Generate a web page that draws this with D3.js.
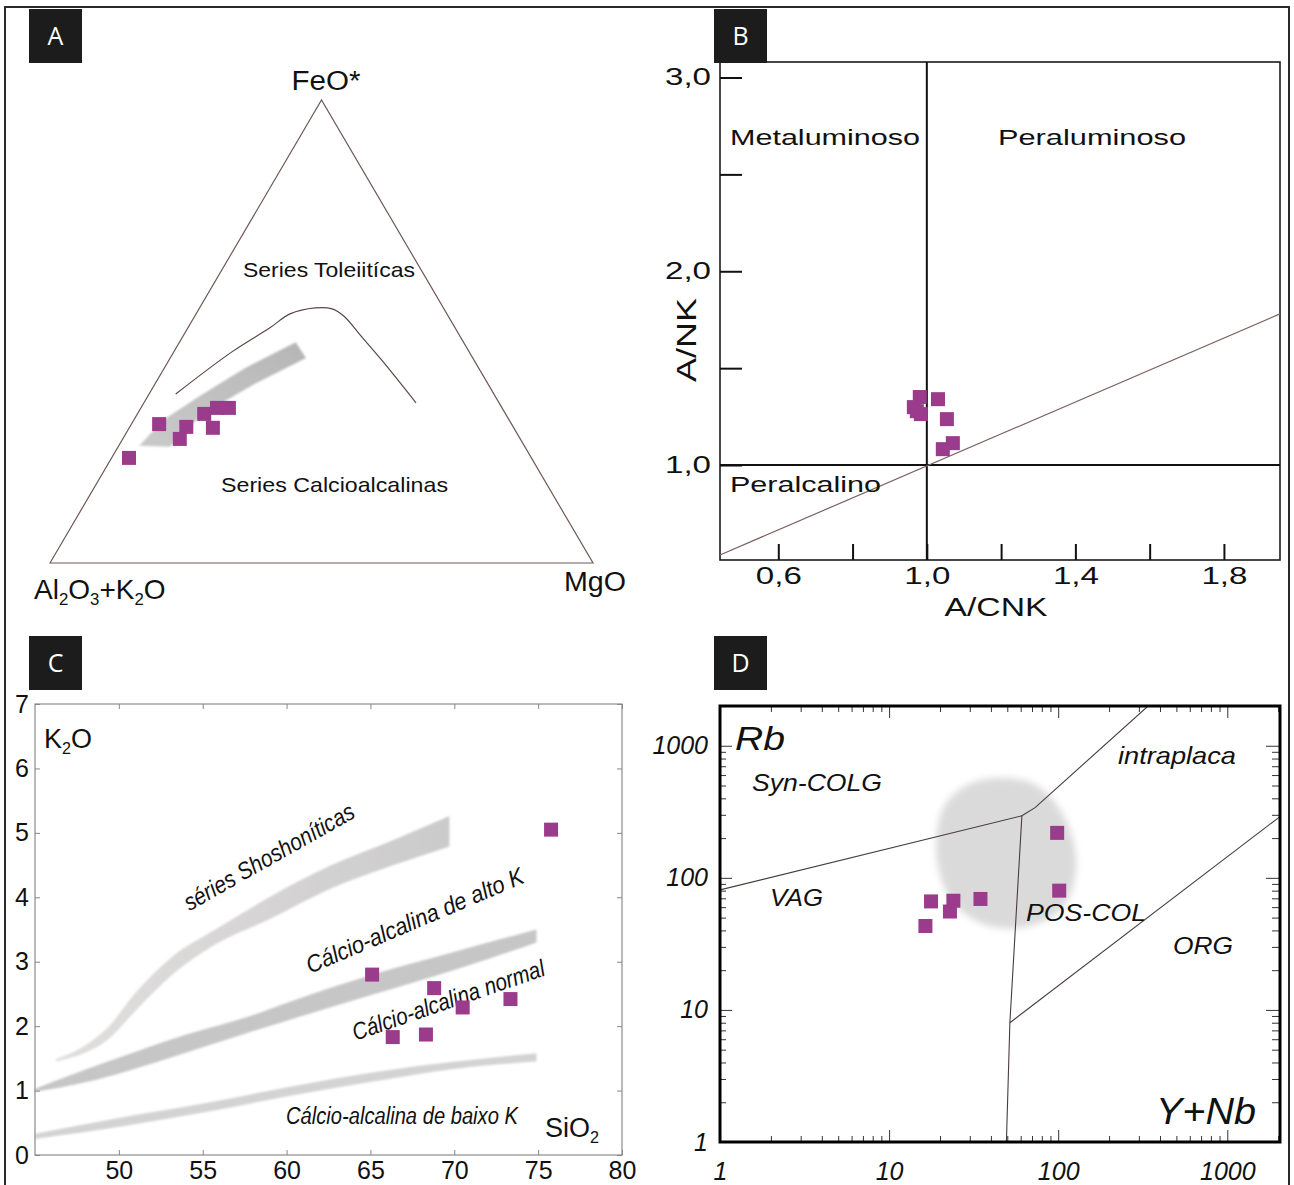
<!DOCTYPE html>
<html>
<head>
<meta charset="utf-8">
<script src="https://cdn.jsdelivr.net/npm/d3@7/dist/d3.min.js"></script>
<style>
  html, body { margin: 0; padding: 0; background: #fff; }
  svg { display: block; }
  text { font-family: "Liberation Sans", Arial, Helvetica, sans-serif; fill: #111; }
</style>
</head>
<body>
<svg id="fig" width="1294" height="1185"></svg>
<script>
// ================= DATA =================
// Panel A — AFM ternary, each entry [Al2O3+K2O, FeO*, MgO] in %
const afmSamples = [
  [74.1, 22.7, 3.2], [64.9, 30.0, 5.1], [62.7, 26.8, 10.5], [60.2, 29.4, 10.4],
  [55.5, 32.2, 12.3], [55.4, 29.2, 15.4], [52.5, 33.5, 14.0], [50.3, 33.5, 16.2]
];
// tholeiitic / calc-alkaline dividing curve
const afmDivide = [
  [58.6, 36.5, 4.9], [43.7, 45.6, 10.7], [34.1, 50.8, 15.1], [28.9, 53.8, 17.3],
  [23.6, 55.1, 21.3], [20.6, 54.9, 24.5], [19.2, 53.3, 27.5], [18.2, 49.0, 32.8],
  [17.0, 43.8, 39.2], [15.3, 34.6, 50.1]
];
// calc-alkaline differentiation trend arrow (outline)
const afmTrendArrow = [
  [30.9, 47.7, 21.4], [43.0, 42.1, 14.9], [54.3, 36.1, 9.6], [63.7, 30.9, 5.4],
  [70.9, 25.3, 3.8], [65.3, 25.1, 9.6], [61.5, 28.3, 10.2], [54.0, 33.1, 12.9],
  [42.9, 38.7, 18.4], [30.7, 44.3, 25.0]
];

// Panel B — [A/CNK, A/NK]
const acnkSamples = [
  [0.981, 1.351], [0.965, 1.299], [0.984, 1.263], [0.973, 1.278],
  [1.030, 1.340], [1.054, 1.237], [1.070, 1.113], [1.043, 1.082]
];
const acnkDiagonal = [[0.443, 0.536], [1.951, 1.78]];
const acnkTicksMajor = [0.6, 1.0, 1.4, 1.8];
const acnkTicksMinor = [0.8, 1.2, 1.6];
const ankTicksMajor = [1.0, 2.0, 3.0];
const ankTicksMinor = [1.5, 2.5];

// Panel C — [SiO2, K2O]
const k2oSamples = [
  [65.1, 2.80], [66.33, 1.83], [68.8, 2.59], [68.31, 1.87],
  [70.5, 2.29], [73.35, 2.42], [75.77, 5.05]
];
// series boundary bands: [SiO2, lower K2O, upper K2O]
const shoshoniticBand = [
  [46.25, 1.45, 1.49], [47.86, 1.57, 1.68], [49.34, 1.79, 1.98], [51.07, 2.26, 2.54],
  [53.29, 2.82, 3.10], [55.76, 3.27, 3.50], [58.97, 3.66, 4.00], [62.68, 4.14, 4.50],
  [66.38, 4.50, 4.89], [69.71, 4.79, 5.26]
];
const highKBand = [
  [45.0, 0.98, 1.03], [47.86, 1.12, 1.31], [50.33, 1.29, 1.54], [54.03, 1.59, 1.87],
  [57.74, 1.90, 2.15], [60.21, 2.10, 2.38], [65.14, 2.49, 2.80], [70.08, 2.88, 3.16],
  [74.9, 3.30, 3.50]
];
const lowKBand = [
  [45.0, 0.25, 0.33], [50.33, 0.45, 0.59], [55.27, 0.67, 0.81], [60.21, 0.92, 1.06],
  [65.14, 1.14, 1.28], [70.08, 1.34, 1.45], [74.9, 1.45, 1.58]
];
const sio2Ticks = [50, 55, 60, 65, 70, 75, 80];
const k2oTicks = [0, 1, 2, 3, 4, 5, 6, 7];

// Panel D — [Y+Nb, Rb] (ppm)
const rbSamples = [
  [17.7, 66.3], [16.4, 43.2], [24.0, 67.1], [22.9, 55.6],
  [34.7, 69.2], [98.6, 219], [101.4, 80.0]
];
const rbBoundaries = [
  [[1, 81], [61, 295]],                     // VAG / syn-COLG
  [[61, 295], [73, 340], [340, 2000]],      // syn-COLG / intraplaca
  [[61, 295], [51.8, 8.0], [49.4, 1]],      // VAG / intraplaca-ORG
  [[51.8, 8.0], [2050, 291]]                // intraplaca / ORG
];
// post-collisional granite field (outline)
const postColField = [
  [45.4, 572], [73.1, 507], [102.8, 327], [126, 163], [121, 81.1], [96, 52.5],
  [59.6, 41.8], [37.0, 44.1], [24.6, 62.4], [20.0, 105], [19.0, 194], [21.4, 357], [29.3, 507]
];
const logMajorTicks = [1, 10, 100, 1000];
const logMinorTicks = [1, 10, 100, 1000].flatMap(k => d3.range(2, 10).map(m => m * k)).filter(v => v <= 2000);

// ================= DRAWING =================
const svg = d3.select('#fig');
const MARK = '#9b3b8c';
const SQ = 14;

const defs = svg.append('defs');
defs.append('filter').attr('id', 'soft').attr('x', '-20%').attr('y', '-20%').attr('width', '140%').attr('height', '140%')
  .append('feGaussianBlur').attr('stdDeviation', 0.9);
defs.append('filter').attr('id', 'blob').attr('x', '-30%').attr('y', '-30%').attr('width', '160%').attr('height', '160%')
  .append('feGaussianBlur').attr('stdDeviation', 3.5);
const arrowGrad = defs.append('linearGradient').attr('id', 'arrowGrad')
  .attr('x1', '100%').attr('y1', '0%').attr('x2', '0%').attr('y2', '100%');
arrowGrad.append('stop').attr('offset', '0%').attr('stop-color', '#b6b6b6');
arrowGrad.append('stop').attr('offset', '100%').attr('stop-color', '#cacaca');
const shoGrad = defs.append('linearGradient').attr('id', 'shoGrad')
  .attr('x1', '0%').attr('y1', '0%').attr('x2', '100%').attr('y2', '0%');
shoGrad.append('stop').attr('offset', '0%').attr('stop-color', '#e2dede');
shoGrad.append('stop').attr('offset', '100%').attr('stop-color', '#cbcbcb');

function squares(g, pts) {
  g.selectAll(null).data(pts).join('rect')
    .attr('x', d => d[0] - SQ / 2).attr('y', d => d[1] - SQ / 2)
    .attr('width', SQ).attr('height', SQ).attr('fill', MARK);
}

// text with subscript parts: parts = [[string, isSub], ...]
function richText(g, x, y, parts, size, anchor) {
  const t = g.append('text').attr('x', x).attr('y', y).attr('font-size', size)
    .attr('text-anchor', anchor || 'start');
  let shifted = false;
  parts.forEach(([s, sub]) => {
    const ts = t.append('tspan').text(s);
    if (sub) { ts.attr('font-size', size * 0.6).attr('dy', shifted ? 0 : size * 0.22); shifted = true; }
    else if (shifted) { ts.attr('dy', -size * 0.22); shifted = false; }
  });
  return t;
}

function label(g, txt, x, y, size, opts = {}) {
  const t = g.append('text').attr('x', x).attr('y', y).attr('font-size', size)
    .attr('text-anchor', opts.anchor || 'start').text(txt);
  if (opts.len) t.attr('textLength', opts.len).attr('lengthAdjust', 'spacingAndGlyphs');
  if (opts.italic) t.attr('font-style', 'italic');
  if (opts.family) t.style('font-family', opts.family);
  if (opts.rotate !== undefined) t.attr('transform', `rotate(${opts.rotate},${x},${y})`);
  return t;
}

// condensed label: glyphs keep their height, width squeezed to `len` by a horizontal scale
function narrowLabel(g, txt, x, y, size, len, angle, anchor) {
  const t = g.append('text').attr('x', 0).attr('y', 0).attr('font-size', size)
    .attr('font-style', 'italic').attr('text-anchor', anchor || 'middle').text(txt);
  const natural = t.node().getComputedTextLength();
  const sx = len / natural;
  t.attr('transform', `translate(${x},${y}) rotate(${angle || 0}) scale(${sx},1)`);
  return t;
}

// ---------- outer frame ----------
svg.append('path').attr('d', 'M5,1185 V7 H1289 V1185')
  .attr('fill', 'none').attr('stroke', '#2a2a2a').attr('stroke-width', 2);

// ---------- Panel A ----------
{
  const g = svg.append('g');
  const x = d3.scaleLinear().domain([0, 100]).range([50, 593]);
  const y = d3.scaleLinear().domain([0, 100]).range([563, 100]);
  const tern = ([a, f, m]) => { const s = a + f + m; return [x(100 * (m + f / 2) / s), y(100 * f / s)]; };

  g.append('path')
    .attr('d', d3.line()([[100, 0, 0], [0, 100, 0], [0, 0, 100]].map(tern)) + 'Z')
    .attr('fill', 'none').attr('stroke', '#6e5a56').attr('stroke-width', 1.2);

  g.append('path')
    .attr('d', d3.line().curve(d3.curveCatmullRom)(afmDivide.map(tern)))
    .attr('fill', 'none').attr('stroke', '#5a4844').attr('stroke-width', 1.2);

  g.append('path')
    .attr('d', d3.line().curve(d3.curveLinearClosed)(afmTrendArrow.map(tern)))
    .attr('fill', 'url(#arrowGrad)').attr('filter', 'url(#soft)');

  squares(g, afmSamples.map(tern));

  label(g, 'FeO*', 326, 90, 27, { anchor: 'middle', len: 69 });
  label(g, 'Series Toleiitícas', 243, 277, 21, { len: 172 });
  label(g, 'Series Calcioalcalinas', 221, 492, 21, { len: 227 });
  richText(g, 34, 599, [['Al', 0], ['2', 1], ['O', 0], ['3', 1], ['+K', 0], ['2', 1], ['O', 0]], 28);
  label(g, 'MgO', 564, 591, 27, { len: 62 });
}

// ---------- Panel B ----------
{
  const g = svg.append('g');
  const x = d3.scaleLinear().domain([0.443, 1.951]).range([720, 1280]);
  const y = d3.scaleLinear().domain([0.51, 3.08]).range([560, 62]);
  const fmt = d => d.toFixed(1).replace('.', ',');

  g.append('rect').attr('x', 720).attr('y', 62).attr('width', 560).attr('height', 498)
    .attr('fill', 'none').attr('stroke', '#1a1a1a').attr('stroke-width', 1.6);

  const styleAxis = (sel, len) => {
    sel.select('.domain').remove();
    sel.selectAll('.tick line').attr('stroke', '#111').attr('stroke-width', 2);
    sel.selectAll('.tick text').attr('font-size', 23).attr('fill', '#111')
      .style('font-family', '"Liberation Sans", Arial, sans-serif')
      .attr('textLength', len).attr('lengthAdjust', 'spacingAndGlyphs');
  };
  g.append('g').attr('transform', 'translate(720,0)')
    .call(d3.axisLeft(y).tickValues(ankTicksMajor).tickSize(-22).tickPadding(9).tickFormat(fmt))
    .call(s => styleAxis(s, 46));
  g.append('g').attr('transform', 'translate(720,0)')
    .call(d3.axisLeft(y).tickValues(ankTicksMinor).tickSize(-22).tickFormat(''))
    .call(s => styleAxis(s, 0));
  g.append('g').attr('transform', 'translate(0,560)')
    .call(d3.axisBottom(x).tickValues(acnkTicksMajor).tickSize(-16).tickPadding(8).tickFormat(fmt))
    .call(s => styleAxis(s, 46));
  g.append('g').attr('transform', 'translate(0,560)')
    .call(d3.axisBottom(x).tickValues(acnkTicksMinor).tickSize(-16).tickFormat(''))
    .call(s => styleAxis(s, 0));

  g.append('line').attr('x1', x(1)).attr('x2', x(1)).attr('y1', 62).attr('y2', 560)
    .attr('stroke', '#111').attr('stroke-width', 2);
  g.append('line').attr('x1', 720).attr('x2', 1280).attr('y1', y(1)).attr('y2', y(1))
    .attr('stroke', '#111').attr('stroke-width', 2);
  g.append('path').attr('d', d3.line().x(d => x(d[0])).y(d => y(d[1]))(acnkDiagonal))
    .attr('stroke', '#7a625d').attr('stroke-width', 1.2).attr('fill', 'none');

  squares(g, acnkSamples.map(d => [x(d[0]), y(d[1])]));

  label(g, 'Metaluminoso', 730, 145, 22, { len: 190 });
  label(g, 'Peraluminoso', 998, 145, 22, { len: 188 });
  label(g, 'Peralcalino', 730, 492, 22, { len: 151 });
  label(g, 'A/CNK', 996, 616, 26, { anchor: 'middle', len: 103 });
  label(g, 'A/NK', 696, 340, 27, { anchor: 'middle', len: 84, rotate: -90 });
}

// ---------- Panel C ----------
{
  const g = svg.append('g');
  const x = d3.scaleLinear().domain([45, 80]).range([35, 622]);
  const y = d3.scaleLinear().domain([0, 7]).range([1155, 704]);
  const area = d3.area().curve(d3.curveMonotoneX)
    .x(d => x(d[0])).y0(d => y(d[1])).y1(d => y(d[2]));

  g.append('path').attr('d', area(shoshoniticBand)).attr('fill', 'url(#shoGrad)').attr('filter', 'url(#soft)');
  g.append('path').attr('d', area(highKBand)).attr('fill', '#c6c6c6').attr('filter', 'url(#soft)');
  g.append('path').attr('d', area(lowKBand)).attr('fill', '#d3d3d3').attr('filter', 'url(#soft)');

  g.append('rect').attr('x', 35).attr('y', 704).attr('width', 587).attr('height', 451)
    .attr('fill', 'none').attr('stroke', '#8c8c8c').attr('stroke-width', 1.2);

  const styleAxis = sel => {
    sel.select('.domain').remove();
    sel.selectAll('.tick line').attr('stroke', '#888').attr('stroke-width', 1);
    sel.selectAll('.tick text').attr('font-size', 25).attr('fill', '#111')
      .style('font-family', '"Liberation Sans", Arial, sans-serif');
  };
  g.append('g').attr('transform', 'translate(35,0)')
    .call(d3.axisLeft(y).tickValues(k2oTicks).tickSize(-5).tickPadding(6).tickFormat(d3.format('d'))).call(styleAxis);
  g.append('g').attr('transform', 'translate(622,0)')
    .call(d3.axisRight(y).tickValues(k2oTicks).tickSize(-5).tickFormat('')).call(styleAxis);
  g.append('g').attr('transform', 'translate(0,1155)')
    .call(d3.axisBottom(x).tickValues(sio2Ticks).tickSize(-5).tickPadding(6).tickFormat(d3.format('d'))).call(styleAxis);
  g.append('g').attr('transform', 'translate(0,704)')
    .call(d3.axisTop(x).tickValues(sio2Ticks).tickSize(-5).tickFormat('')).call(styleAxis);

  narrowLabel(g, 'séries Shoshoníticas', 273, 864, 24, 192, -29.5);
  narrowLabel(g, 'Cálcio-alcalina de alto K', 418, 928, 24, 234, -23);
  narrowLabel(g, 'Cálcio-alcalina normal', 451, 1008, 24, 202, -19);
  narrowLabel(g, 'Cálcio-alcalina de baixo K', 286, 1124, 24, 232, 0, 'start');

  richText(g, 545, 1137, [['SiO', 0], ['2', 1]], 27);
  richText(g, 44, 748, [['K', 0], ['2', 1], ['O', 0]], 27);

  squares(g, k2oSamples.map(d => [x(d[0]), y(d[1])]));
}

// ---------- Panel D ----------
{
  const g = svg.append('g');
  const x = d3.scaleLog().domain([1, 2050]).range([720, 1280]);
  const y = d3.scaleLog().domain([1, 2000]).range([1142, 706]);
  const line = d3.line().x(d => x(d[0])).y(d => y(d[1]));

  g.append('path')
    .attr('d', d3.line().curve(d3.curveCatmullRomClosed).x(d => x(d[0])).y(d => y(d[1]))(postColField))
    .attr('fill', '#dadada').attr('filter', 'url(#blob)');

  const clip = defs.append('clipPath').attr('id', 'clipD');
  clip.append('rect').attr('x', 720).attr('y', 706).attr('width', 560).attr('height', 436);
  g.append('g').attr('clip-path', 'url(#clipD)')
    .selectAll(null).data(rbBoundaries).join('path')
    .attr('d', line).attr('fill', 'none').attr('stroke', '#4a3c3c').attr('stroke-width', 1.1);

  const styleAxis = sel => {
    sel.select('.domain').remove();
    sel.selectAll('.tick line').attr('stroke', '#333').attr('stroke-width', 1);
    sel.selectAll('.tick text').attr('font-size', 25).attr('fill', '#111').attr('font-style', 'italic')
      .style('font-family', '"Liberation Sans", Arial, sans-serif');
  };
  const fmt = d3.format('d');
  g.append('g').attr('transform', 'translate(720,0)')
    .call(d3.axisLeft(y).tickValues(logMajorTicks).tickSize(-12).tickPadding(12).tickFormat(fmt)).call(styleAxis);
  g.append('g').attr('transform', 'translate(720,0)')
    .call(d3.axisLeft(y).tickValues(logMinorTicks).tickSize(-6).tickFormat('')).call(styleAxis);
  g.append('g').attr('transform', 'translate(1280,0)')
    .call(d3.axisRight(y).tickValues(logMajorTicks).tickSize(-14).tickFormat('')).call(styleAxis);
  g.append('g').attr('transform', 'translate(1280,0)')
    .call(d3.axisRight(y).tickValues(logMinorTicks).tickSize(-8).tickFormat('')).call(styleAxis);
  g.append('g').attr('transform', 'translate(0,1142)')
    .call(d3.axisBottom(x).tickValues(logMajorTicks).tickSize(-12).tickPadding(20).tickFormat(fmt)).call(styleAxis);
  g.append('g').attr('transform', 'translate(0,1142)')
    .call(d3.axisBottom(x).tickValues(logMinorTicks).tickSize(-6).tickFormat('')).call(styleAxis);
  g.append('g').attr('transform', 'translate(0,706)')
    .call(d3.axisTop(x).tickValues(logMajorTicks).tickSize(-12).tickFormat('')).call(styleAxis);
  g.append('g').attr('transform', 'translate(0,706)')
    .call(d3.axisTop(x).tickValues(logMinorTicks).tickSize(-6).tickFormat('')).call(styleAxis);

  g.append('rect').attr('x', 720).attr('y', 706).attr('width', 560).attr('height', 436)
    .attr('fill', 'none').attr('stroke', '#000').attr('stroke-width', 3);

  squares(g, rbSamples.map(d => [x(d[0]), y(d[1])]));

  label(g, 'Rb', 735, 750, 33, { italic: true, len: 50 });
  label(g, 'Syn-COLG', 752, 791, 24, { italic: true, len: 130 });
  label(g, 'intraplaca', 1118, 764, 24, { italic: true, len: 118 });
  label(g, 'VAG', 770, 906, 24, { italic: true, len: 53 });
  label(g, 'POS-COL', 1026, 921, 24, { italic: true, len: 120 });
  label(g, 'ORG', 1173, 954, 24, { italic: true, len: 60 });
  label(g, 'Y+Nb', 1156, 1124, 36, { italic: true, len: 100 });
}

// ---------- panel letters ----------
const panelTags = [['A', 29, 9], ['B', 714, 9], ['C', 29, 636], ['D', 714, 636]];
const tags = svg.append('g').selectAll(null).data(panelTags).join('g');
tags.append('rect').attr('x', d => d[1]).attr('y', d => d[2]).attr('width', 53).attr('height', 54).attr('fill', '#1c1c1c');
tags.append('text').attr('x', d => d[1] + 26.5).attr('y', d => d[2] + 36).attr('text-anchor', 'middle')
  .attr('font-size', 25).style('fill', '#fff').style('font-family', '"Open Sans", "Noto Sans", sans-serif')
  .text(d => d[0]);
</script>
</body>
</html>
